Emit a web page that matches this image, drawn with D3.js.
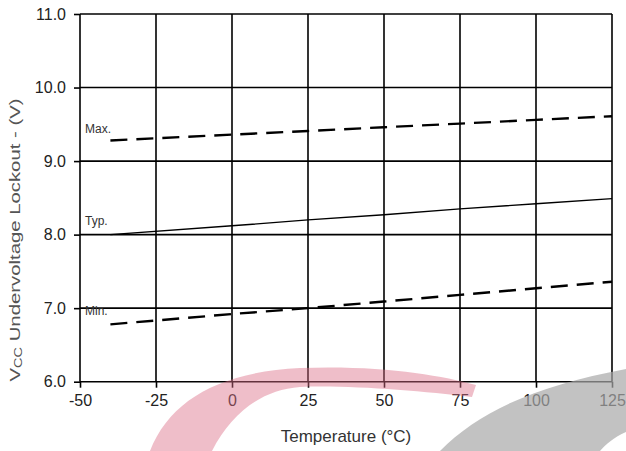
<!DOCTYPE html>
<html><head><meta charset="utf-8">
<script src="https://cdn.jsdelivr.net/npm/d3@7"></script>
<style>body{margin:0;background:#fff}svg{display:block;font-family:"Liberation Sans",Arial,sans-serif}</style>
</head><body><svg id="c" width="626" height="451"></svg>
<script>
const temps = [-40, 0, 25, 50, 75, 100, 125];
const maxV = [9.28, 9.36, 9.41, 9.46, 9.51, 9.56, 9.61];
const typV = [8.00, 8.12, 8.20, 8.27, 8.35, 8.42, 8.49];
const minV = [6.78, 6.92, 7.00, 7.09, 7.18, 7.27, 7.36];
const xTicks = [-50, -25, 0, 25, 50, 75, 100, 125];
const yTicks = [6, 7, 8, 9, 10, 11];
const seriesLabels = ["Max.", "Typ.", "Min."];

const svg = d3.select("#c");
const L = 80, R = 612, T = 14, B = 381.7;
const x = d3.scaleLinear().domain([-50, 125]).range([L, R]);
const y = d3.scaleLinear().domain([6, 11]).range([B, T]);

// grid
const g = svg.append("g").attr("stroke", "#000").attr("stroke-width", 1.6);
g.selectAll("line.v").data(xTicks).join("line").attr("class", "v")
  .attr("x1", d => x(d)).attr("x2", d => x(d)).attr("y1", T).attr("y2", B);
g.selectAll("line.h").data(yTicks).join("line").attr("class", "h")
  .attr("x1", L).attr("x2", R).attr("y1", d => y(d)).attr("y2", d => y(d));

// axes
const xa = svg.append("g").attr("transform", `translate(0,${B})`)
  .call(d3.axisBottom(x).tickValues(xTicks).tickSize(6).tickSizeOuter(0).tickPadding(7).tickFormat(d => String(d)));
const ya = svg.append("g").attr("transform", `translate(${L},0)`)
  .call(d3.axisLeft(y).tickValues(yTicks).tickSize(6).tickSizeOuter(0).tickPadding(8).tickFormat(d3.format(".1f")));
[xa, ya].forEach(a => {
  a.select(".domain").remove();
  a.selectAll(".tick line").attr("stroke", "#000").attr("stroke-width", 1.6);
  a.selectAll(".tick text").attr("fill", "#222").style("font-size", "16px").style("font-family", "'Liberation Sans',Arial,sans-serif");
});

// series
const line = d3.line().x((d, i) => x(temps[i])).y(d => y(d));
svg.append("path").datum(maxV).attr("d", line).attr("fill", "none").attr("stroke", "#000")
  .attr("stroke-width", 2.4).attr("stroke-dasharray", "17,9");
svg.append("path").datum(typV).attr("d", line).attr("fill", "none").attr("stroke", "#000")
  .attr("stroke-width", 1.4);
svg.append("path").datum(minV).attr("d", line).attr("fill", "none").attr("stroke", "#000")
  .attr("stroke-width", 2.4).attr("stroke-dasharray", "17,9");

// labels
const labY = [9.38, 8.13, 6.91];
svg.selectAll("text.lab").data(seriesLabels).join("text").attr("class", "lab")
  .attr("x", 85).attr("y", (d, i) => y(labY[i]))
  .attr("fill", "#333").style("font-size", "12px").text(d => d);

// axis titles
svg.append("text").attr("x", (L + R) / 2).attr("y", 442).attr("text-anchor", "middle")
  .attr("fill", "#333").style("font-size", "17px").text("Temperature (°C)");
const yt = svg.append("text").attr("transform", "translate(20,240) rotate(-90)")
  .attr("text-anchor", "middle").attr("fill", "#555").style("font-size", "14px")
  .attr("textLength", 283).attr("lengthAdjust", "spacingAndGlyphs");
yt.append("tspan").text("V");
yt.append("tspan").attr("font-size", "10px").attr("dy", 2).text("CC");
yt.append("tspan").attr("dy", -2).text(" Undervoltage Lockout - (V)");

// watermark (decorative, from reference image)
svg.append("path").attr("d", "M150,451 C170,400 220,372 300,368 C380,365 440,375 476,385 L472,397 C420,391 350,385 300,387 C262,390 232,412 212,451 Z")
  .attr("fill", "#dc6f88").attr("opacity", 0.45);
svg.append("path").attr("d", "M440,451 C480,410 540,385 626,369 L626,432 C614,437 605,445 600,451 Z")
  .attr("fill", "#a8a8a8").attr("opacity", 0.7);
</script></body></html>
